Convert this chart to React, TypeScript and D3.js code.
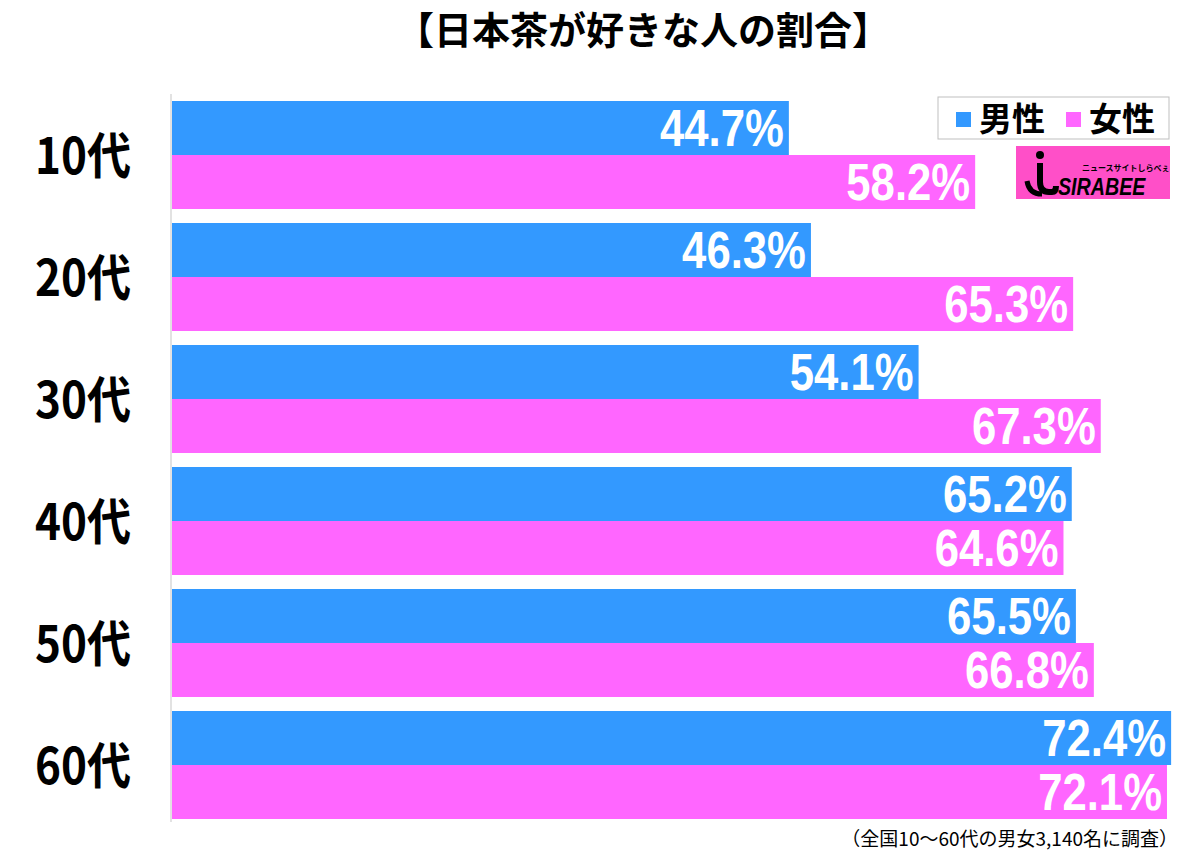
import React from "react";
import * as d3 from "d3";

const title = "【日本茶が好きな人の割合】";
const categories = ["10代", "20代", "30代", "40代", "50代", "60代"];
const seriesNames = ["男性", "女性"];
const maleValues = [44.7, 46.3, 54.1, 65.2, 65.5, 72.4];
const femaleValues = [58.2, 65.3, 67.3, 64.6, 66.8, 72.1];
const footnote = "（全国10～60代の男女3,140名に調査）";

const colors = ["#3399FF", "#FF66FF"];
const W = 1200;
const H = 855;
const FONT = "'Noto Sans CJK JP', 'Liberation Sans', sans-serif";
const NUMFONT = "'Liberation Sans', Arial, sans-serif";

export default function App() {
  const x = d3.scaleLinear().domain([0, 100]).range([172, 172 + 1380]);
  const y = d3.scaleBand().domain(categories).range([94, 826]).paddingInner(14 / 122).paddingOuter(7 / 122);
  const inner = d3.scaleBand().domain(seriesNames).range([0, y.bandwidth()]);
  const series = [maleValues, femaleValues];

  return (
    <svg width={W} height={H} style={{ position: "absolute", left: 0, top: 0, background: "#fff" }}>
      <text x={643} y={44} textAnchor="middle" fontFamily={FONT} fontWeight="bold" fontSize={38} fill="#000">
        {title}
      </text>
      <line x1={171} x2={171} y1={94} y2={822} stroke="#d9d9d9" strokeWidth={1.5} />
      {categories.map((c, i) => (
        <g key={c}>
          {series.map((vals, s) => {
            const y0 = (y(c) as number) + (inner(seriesNames[s]) as number);
            const bh = inner.bandwidth();
            const xe = x(vals[i]);
            return (
              <g key={s}>
                <rect x={x(0)} y={y0} width={xe - x(0)} height={bh} fill={colors[s]} />
                <g transform={`translate(${xe - 5},${y0 + bh - 9}) scale(0.84,1)`}>
                  <text textAnchor="end" fontFamily={NUMFONT} fontWeight="bold" fontSize={52} fill="#fff">
                    {vals[i].toFixed(1) + "%"}
                  </text>
                </g>
              </g>
            );
          })}
          <g transform={`translate(35,${(y(c) as number) + y.bandwidth() / 2 + 19}) scale(0.88,1)`}>
            <text fontFamily={FONT} fontWeight="bold" fontSize={50} fill="#000">
              {c}
            </text>
          </g>
        </g>
      ))}
      {/* legend */}
      <rect x={938} y={97} width={231} height={42} fill="#fff" stroke="#bfbfbf" strokeWidth={1} />
      {seriesNames.map((n, s) => (
        <g key={n} transform={`translate(${956 + s * 110},0)`}>
          <rect x={0} y={112} width={15} height={15} fill={colors[s]} />
          <text x={23} y={131} fontFamily={FONT} fontWeight="bold" fontSize={33} fill="#000">
            {n}
          </text>
        </g>
      ))}
      {/* logo */}
      <rect x={1016} y={146} width={154} height={53} fill="#FF4FC8" />
      <text x={1082} y={171} fontFamily={FONT} fontWeight="bold" fontSize={8} fill="#000">
        ニュースサイトしらべぇ
      </text>
      <g transform="translate(1058,195) scale(0.82,1)">
        <text fontFamily={NUMFONT} fontWeight="bold" fontStyle="italic" fontSize={24} fill="#000">
          SIRABEE
        </text>
      </g>
      <path d="M1040,163 L1040,182 Q1040,192 1049,192 L1052,192 Q1056,192 1056,186" fill="none" stroke="#000" strokeWidth={6} />
      <circle cx={1040} cy={155} r={4} fill="#000" />
      <path d="M1027,181 Q1029,194 1042,194" fill="none" stroke="#000" strokeWidth={5} />
      <text x={1178} y={846} textAnchor="end" fontFamily={FONT} fontSize={19} fill="#000">
        {footnote}
      </text>
    </svg>
  );
}
